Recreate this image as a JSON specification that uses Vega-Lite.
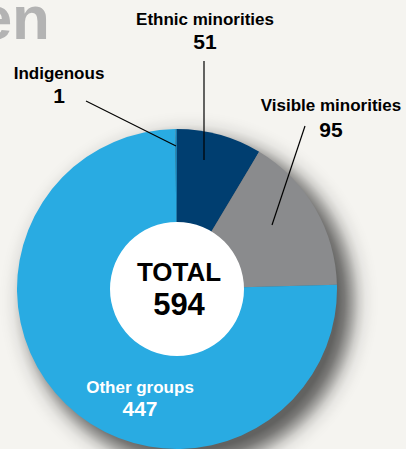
{
  "$schema": "https://vega.github.io/schema/vega-lite/v6.json",
  "width": 406,
  "height": 449,
  "autosize": "none",
  "padding": 0,
  "background": "#f5f4f0",
  "config": {"view": {"stroke": null}, "font": "Liberation Sans"},
  "datasets": {
    "groups": [
      {"category": "Ethnic minorities", "count": 51, "rank": 1},
      {"category": "Visible minorities", "count": 95, "rank": 2},
      {"category": "Other groups", "count": 447, "rank": 3},
      {"category": "Indigenous", "count": 1, "rank": 4}
    ],
    "labels": [
      {"category": "Ethnic minorities", "lx": 28, "ny": 264, "cy": 240, "x1": 27, "y1": 228, "x2": 27, "y2": 129},
      {"category": "Indigenous", "lx": -118, "ny": 210, "cy": 186, "x1": -91, "y1": 188, "x2": -1, "y2": 143},
      {"category": "Visible minorities", "lx": 154, "ny": 178, "cy": 152, "x1": 128, "y1": 163, "x2": 95, "y2": 64},
      {"category": "Other groups", "lx": -37, "ny": -104, "cy": -127}
    ]
  },
  "layer": [
    {
      "data": {"values": [{"part": "shadow"}]},
      "mark": {
        "type": "arc",
        "radius": 190,
        "theta": 6.2832,
        "xOffset": 12,
        "yOffset": 12,
        "fill": {
          "gradient": "radial",
          "x1": 0.5, "y1": 0.5, "r1": 0,
          "x2": 0.5, "y2": 0.5, "r2": 0.5,
          "stops": [
            {"offset": 0, "color": "rgba(0,0,0,0.6)"},
            {"offset": 0.78, "color": "rgba(0,0,0,0.6)"},
            {"offset": 0.82, "color": "rgba(0,0,0,0.5)"},
            {"offset": 0.86, "color": "rgba(0,0,0,0.32)"},
            {"offset": 0.895, "color": "rgba(0,0,0,0.15)"},
            {"offset": 0.93, "color": "rgba(0,0,0,0.05)"},
            {"offset": 0.97, "color": "rgba(0,0,0,0.01)"},
            {"offset": 1, "color": "rgba(0,0,0,0)"}
          ]
        }
      },
      "encoding": {
        "x": {"datum": 0, "type": "quantitative", "scale": {"domain": [-177, 229], "nice": false, "zero": false}, "axis": null},
        "y": {"datum": 0, "type": "quantitative", "scale": {"domain": [-160, 289], "nice": false, "zero": false}, "axis": null}
      }
    },
    {
      "data": {"name": "groups"},
      "mark": {"type": "arc", "outerRadius": 160, "innerRadius": 0},
      "encoding": {
        "theta": {"field": "count", "type": "quantitative", "stack": true},
        "order": {"field": "rank", "type": "quantitative"},
        "color": {
          "field": "category",
          "type": "nominal",
          "scale": {
            "domain": ["Ethnic minorities", "Visible minorities", "Other groups", "Indigenous"],
            "range": ["#003e70", "#8a8b8d", "#29abe2", "#1a7fb3"]
          },
          "legend": null
        },
        "x": {"datum": 0, "type": "quantitative", "scale": {"domain": [-177, 229], "nice": false, "zero": false}, "axis": null},
        "y": {"datum": 0, "type": "quantitative", "scale": {"domain": [-160, 289], "nice": false, "zero": false}, "axis": null}
      }
    },
    {
      "data": {"values": [{"part": "hole"}]},
      "mark": {"type": "arc", "radius": 67, "theta": 6.2832, "fill": "#ffffff"},
      "encoding": {
        "x": {"datum": 0, "type": "quantitative", "scale": {"domain": [-177, 229], "nice": false, "zero": false}, "axis": null},
        "y": {"datum": 0, "type": "quantitative", "scale": {"domain": [-160, 289], "nice": false, "zero": false}, "axis": null}
      }
    },
    {
      "data": {"name": "labels"},
      "transform": [{"filter": "isValid(datum.x1)"}],
      "mark": {"type": "rule", "color": "#000000", "strokeWidth": 1.2},
      "encoding": {
        "x": {"field": "x1", "type": "quantitative", "scale": {"domain": [-177, 229], "nice": false, "zero": false}, "axis": null},
        "y": {"field": "y1", "type": "quantitative", "scale": {"domain": [-160, 289], "nice": false, "zero": false}, "axis": null},
        "x2": {"field": "x2"},
        "y2": {"field": "y2"}
      }
    },
    {
      "data": {"name": "labels"},
      "mark": {"type": "text", "fontSize": 17, "fontWeight": "bold", "align": "center", "baseline": "alphabetic"},
      "encoding": {
        "text": {"field": "category"},
        "x": {"field": "lx", "type": "quantitative", "scale": {"domain": [-177, 229], "nice": false, "zero": false}, "axis": null},
        "y": {"field": "ny", "type": "quantitative", "scale": {"domain": [-160, 289], "nice": false, "zero": false}, "axis": null},
        "color": {"condition": {"test": "datum.category === 'Other groups'", "value": "#ffffff"}, "value": "#000000"}
      }
    },
    {
      "data": {"name": "labels"},
      "transform": [
        {"lookup": "category", "from": {"data": {"name": "groups"}, "key": "category", "fields": ["count"]}}
      ],
      "mark": {"type": "text", "fontSize": 21, "fontWeight": "bold", "align": "center", "baseline": "alphabetic"},
      "encoding": {
        "text": {"field": "count"},
        "x": {"field": "lx", "type": "quantitative", "scale": {"domain": [-177, 229], "nice": false, "zero": false}, "axis": null},
        "y": {"field": "cy", "type": "quantitative", "scale": {"domain": [-160, 289], "nice": false, "zero": false}, "axis": null},
        "color": {"condition": {"test": "datum.category === 'Other groups'", "value": "#ffffff"}, "value": "#000000"}
      }
    },
    {
      "data": {"values": [{"part": "total"}]},
      "mark": {"type": "text", "text": "TOTAL", "fontSize": 26, "fontWeight": "bold", "align": "center", "baseline": "alphabetic", "color": "#000000"},
      "encoding": {
        "x": {"datum": 2, "type": "quantitative", "scale": {"domain": [-177, 229], "nice": false, "zero": false}, "axis": null},
        "y": {"datum": 8, "type": "quantitative", "scale": {"domain": [-160, 289], "nice": false, "zero": false}, "axis": null}
      }
    },
    {
      "data": {"name": "groups"},
      "transform": [{"aggregate": [{"op": "sum", "field": "count", "as": "total"}]}],
      "mark": {"type": "text", "fontSize": 31, "fontWeight": "bold", "align": "center", "baseline": "alphabetic", "color": "#000000"},
      "encoding": {
        "text": {"field": "total"},
        "x": {"datum": 2, "type": "quantitative", "scale": {"domain": [-177, 229], "nice": false, "zero": false}, "axis": null},
        "y": {"datum": -26, "type": "quantitative", "scale": {"domain": [-160, 289], "nice": false, "zero": false}, "axis": null}
      }
    },
    {
      "data": {"values": [{"part": "title"}]},
      "mark": {"type": "text", "text": "en", "fontSize": 62, "fontWeight": "bold", "align": "right", "baseline": "alphabetic", "color": "#b3b3b3"},
      "encoding": {
        "x": {"datum": -127, "type": "quantitative", "scale": {"domain": [-177, 229], "nice": false, "zero": false}, "axis": null},
        "y": {"datum": 250, "type": "quantitative", "scale": {"domain": [-160, 289], "nice": false, "zero": false}, "axis": null}
      }
    }
  ]
}
